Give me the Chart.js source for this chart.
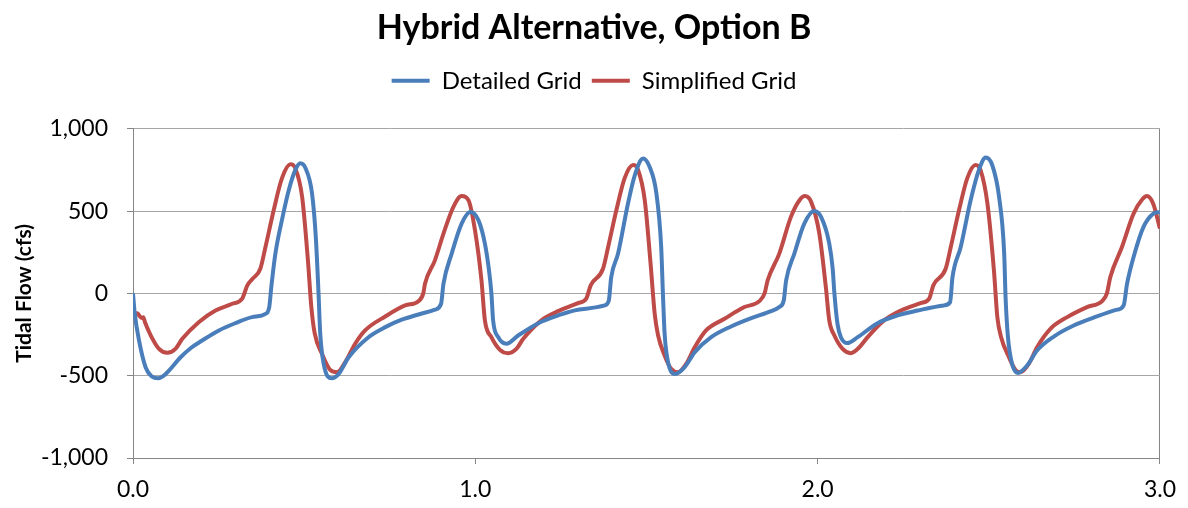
<!DOCTYPE html>
<html>
<head>
<meta charset="utf-8">
<script src="https://cdn.jsdelivr.net/npm/chart.js@4/dist/chart.umd.min.js"></script>
<style>
  body { margin: 0; background: #fff; }
  #wrap { width: 1188px; height: 508px; }
</style>
</head>
<body>
<div id="wrap"><canvas id="flowChart"></canvas></div>
<script>
// time in days, flow in cfs
var detailedX = [0.000, 0.005, 0.018, 0.037, 0.055, 0.074, 0.090, 0.105, 0.139, 0.170, 0.202, 0.251, 0.299, 0.348, 0.387, 0.398, 0.404, 0.416, 0.435, 0.455, 0.474, 0.489, 0.504, 0.523, 0.534, 0.542, 0.547, 0.557, 0.581, 0.601, 0.630, 0.688, 0.737, 0.785, 0.834, 0.882, 0.900, 0.907, 0.931, 0.960, 0.985, 1.009, 1.028, 1.040, 1.047, 1.052, 1.067, 1.091, 1.125, 1.184, 1.242, 1.300, 1.378, 1.390, 1.397, 1.417, 1.446, 1.466, 1.490, 1.509, 1.529, 1.543, 1.548, 1.553, 1.563, 1.584, 1.611, 1.641, 1.689, 1.747, 1.806, 1.864, 1.888, 1.901, 1.908, 1.932, 1.961, 1.990, 2.010, 2.034, 2.044, 2.049, 2.058, 2.068, 2.087, 2.117, 2.175, 2.233, 2.292, 2.369, 2.387, 2.394, 2.418, 2.447, 2.471, 2.491, 2.510, 2.530, 2.545, 2.549, 2.556, 2.568, 2.585, 2.612, 2.641, 2.690, 2.748, 2.816, 2.875, 2.894, 2.904, 2.923, 2.952, 2.981, 3.000];
var detailedY = [0, -120, -290, -450, -505, -516, -500, -469, -388, -330, -286, -225, -181, -144, -124, -83, 38, 242, 445, 627, 749, 790, 760, 607, 343, 0, -245, -428, -516, -489, -388, -266, -205, -160, -128, -99, -63, 59, 242, 424, 495, 445, 303, 140, 0, -164, -266, -306, -256, -181, -134, -99, -73, -43, 99, 242, 546, 719, 820, 769, 607, 282, 0, -245, -418, -489, -449, -357, -266, -201, -150, -108, -83, -43, 79, 242, 424, 501, 465, 303, 150, 0, -185, -266, -302, -266, -181, -134, -104, -73, -53, 99, 282, 566, 749, 826, 780, 587, 242, -22, -266, -428, -483, -438, -347, -262, -195, -140, -99, -73, 59, 221, 404, 485, 495];

var simplifiedX = [0.000, 0.006, 0.013, 0.020, 0.026, 0.030, 0.035, 0.052, 0.076, 0.100, 0.124, 0.144, 0.192, 0.241, 0.290, 0.319, 0.334, 0.350, 0.372, 0.387, 0.411, 0.435, 0.460, 0.474, 0.494, 0.511, 0.521, 0.531, 0.552, 0.576, 0.596, 0.620, 0.649, 0.678, 0.737, 0.795, 0.834, 0.848, 0.853, 0.882, 0.907, 0.936, 0.960, 0.980, 0.999, 1.018, 1.028, 1.047, 1.072, 1.096, 1.120, 1.140, 1.193, 1.242, 1.300, 1.324, 1.337, 1.373, 1.388, 1.412, 1.436, 1.461, 1.475, 1.495, 1.512, 1.524, 1.534, 1.553, 1.572, 1.592, 1.616, 1.641, 1.674, 1.728, 1.786, 1.830, 1.845, 1.854, 1.888, 1.922, 1.947, 1.963, 1.981, 2.005, 2.024, 2.034, 2.049, 2.073, 2.097, 2.122, 2.146, 2.194, 2.243, 2.301, 2.326, 2.338, 2.374, 2.389, 2.413, 2.437, 2.461, 2.476, 2.496, 2.515, 2.525, 2.536, 2.559, 2.578, 2.593, 2.617, 2.641, 2.680, 2.729, 2.787, 2.831, 2.845, 2.855, 2.889, 2.923, 2.948, 2.962, 2.980, 3.000];
var simplifiedY = [-140, -125, -120, -140, -150, -145, -175, -256, -337, -361, -337, -276, -175, -104, -63, -32, 49, 90, 150, 282, 505, 699, 784, 760, 587, 201, -83, -245, -367, -465, -479, -418, -306, -225, -140, -73, -47, 0, 59, 201, 363, 526, 591, 566, 384, 79, -164, -266, -343, -363, -337, -276, -164, -108, -59, -32, 49, 150, 282, 505, 699, 780, 753, 566, 181, -124, -256, -378, -458, -479, -428, -327, -225, -154, -83, -47, 0, 79, 242, 465, 566, 591, 556, 363, 38, -164, -256, -337, -363, -327, -266, -164, -104, -59, -32, 49, 150, 282, 505, 699, 780, 749, 546, 140, -144, -266, -388, -465, -479, -428, -327, -215, -144, -83, -47, 0, 99, 282, 485, 570, 591, 546, 394];

var yTicks = [-1000, -500, 0, 500, 1000];
var xTicks = [0, 1, 2, 3];

function pairs(xs, ys) {
    return xs.map(function (x, i) { return {x: x, y: ys[i]}; });
}

var axisGray = '#868686';
var gridGray = '#a6a6a6';
var font = 'Lato, "Open Sans", sans-serif';

var legendSpace = {
    id: 'legendSpace',
    beforeInit: function (chart) {
        var origFit = chart.legend.fit;
        chart.legend.fit = function () {
            origFit.bind(chart.legend)();
            this.height += 26;
        };
    }
};

var ctx = document.getElementById('flowChart').getContext('2d');
var flowChart = new Chart(ctx, {
    type: 'line',
    data: {
        datasets: [{
            label: 'Detailed Grid',
            data: pairs(detailedX, detailedY),
            borderColor: '#4a7ebb',
            backgroundColor: '#4a7ebb',
            borderWidth: 4,
            pointRadius: 0,
            cubicInterpolationMode: 'monotone'
        }, {
            label: 'Simplified Grid',
            data: pairs(simplifiedX, simplifiedY),
            borderColor: '#be4b48',
            backgroundColor: '#be4b48',
            borderWidth: 4,
            pointRadius: 0,
            cubicInterpolationMode: 'monotone'
        }]
    },
    plugins: [legendSpace],
    options: {
        responsive: true,
        maintainAspectRatio: false,
        animation: false,
        layout: { autoPadding: false, padding: { top: 0, right: 12, left: 12, bottom: 0 } },
        plugins: {
            title: {
                display: true,
                text: 'Hybrid Alternative, Option B',
                color: '#000',
                font: { family: font, size: 34, weight: 'bold' },
                padding: { top: 8, bottom: 10 }
            },
            legend: {
                labels: {
                    color: '#000',
                    font: { family: font, size: 24 },
                    usePointStyle: true,
                    pointStyle: 'line',
                    pointStyleWidth: 38,
                    padding: 10
                }
            },
            tooltip: { enabled: false }
        },
        scales: {
            x: {
                type: 'linear',
                min: 0,
                max: 3,
                afterBuildTicks: function (scale) {
                    scale.ticks = xTicks.map(function (v) { return {value: v}; });
                },
                afterFit: function (scale) { scale.height = 50; },
                ticks: {
                    color: '#000',
                    font: { family: font, size: 23 },
                    padding: 12,
                    maxRotation: 0,
                    callback: function (v) { return Number(v).toFixed(1); }
                },
                grid: {
                    color: function (c) { return c.tick && c.tick.value === 3 ? axisGray : 'rgba(0,0,0,0)'; },
                    tickColor: axisGray,
                    tickLength: 6,
                    lineWidth: 1
                },
                border: { color: axisGray, width: 1 }
            },
            y: {
                min: -1000,
                max: 1000,
                afterBuildTicks: function (scale) {
                    scale.ticks = yTicks.map(function (v) { return {value: v}; });
                },
                afterFit: function (scale) { scale.width = 121; },
                ticks: {
                    color: '#000',
                    font: { family: font, size: 23 },
                    padding: 19,
                    callback: function (v) { return Number(v).toLocaleString('en-US'); }
                },
                grid: {
                    color: gridGray,
                    tickColor: axisGray,
                    tickLength: 6,
                    lineWidth: 1
                },
                border: { color: axisGray, width: 1 },
                title: {
                    display: true,
                    text: 'Tidal Flow (cfs)',
                    color: '#000',
                    font: { family: font, size: 21, weight: 'bold' },
                    padding: { top: 0, bottom: 0 }
                }
            },
            yRight: {
                position: 'right',
                min: -1000,
                max: 1000,
                afterFit: function (scale) { scale.width = 13; },
                ticks: { display: false },
                grid: { display: false },
                border: { display: false }
            }
        }
    }
});
</script>
</body>
</html>
